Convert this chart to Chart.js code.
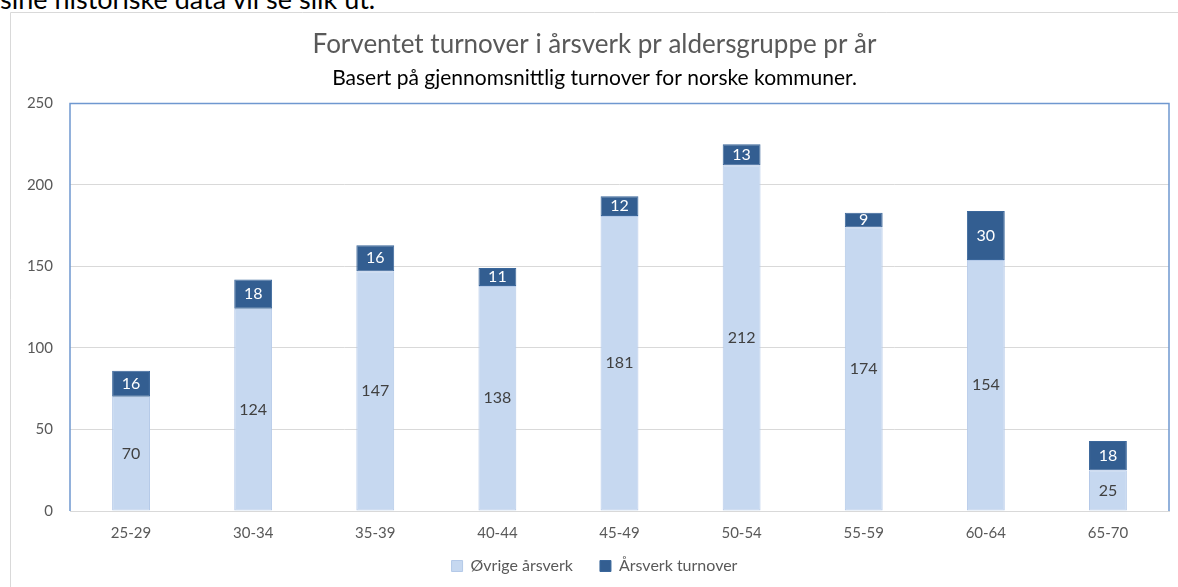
<!DOCTYPE html>
<html>
<head>
<meta charset="utf-8">
<script src="https://cdn.jsdelivr.net/npm/chart.js@4.4.1/dist/chart.umd.min.js"></script>
<style>
    html, body { margin: 0; padding: 0; background: #fff; overflow: hidden; }
    #intro {
        position: absolute; left: 0; top: -18px;
        font: 27px Lato, sans-serif; color: #000; white-space: nowrap;
    }
    #wrap { position: absolute; left: 0; top: 0; width: 1178px; height: 587px; }
</style>
</head>
<body>
<div id="intro">sine historiske data vil se slik ut.</div>
<div id="wrap"><canvas id="turnoverChart"></canvas></div>
<script>
const ageGroups = ['25-29', '30-34', '35-39', '40-44', '45-49', '50-54', '55-59', '60-64', '65-70'];
const otherFte = [70, 124, 147, 138, 181, 212, 174, 154, 25];
const turnoverFte = [16, 18, 16, 11, 12, 13, 9, 30, 18];
const yTicks = [0, 50, 100, 150, 200, 250];

const FONT = 'Lato, "Open Sans", sans-serif';
const GREY_TEXT = '#595959';

// frame around the whole chart object + blue border around plot area
const framePlugin = {
    id: 'frame',
    afterLayout(chart) {
        // x labels hang below the (thin) axis box, so widen its clip area
        const x = chart.scales.x;
        x.bottom = x.top + 40;
    },
    beforeDraw(chart) {
        const ctx = chart.ctx;
        ctx.save();
        ctx.strokeStyle = '#d9d9d9';
        ctx.lineWidth = 1;
        ctx.beginPath();
        ctx.moveTo(10.5, chart.height);
        ctx.lineTo(10.5, 12.5);
        ctx.lineTo(chart.width, 12.5);
        ctx.stroke();
        ctx.restore();
    },
    afterDraw(chart) {
        const { left, top, right, bottom } = chart.chartArea;
        const ctx = chart.ctx;
        ctx.save();
        ctx.strokeStyle = '#6f98d0';
        ctx.lineWidth = 1.5;
        ctx.beginPath();
        ctx.moveTo(left, bottom);
        ctx.lineTo(left, top);
        ctx.lineTo(right, top);
        ctx.lineTo(right, bottom);
        ctx.stroke();
        ctx.restore();
    }
};

// value labels centred in each segment
const segmentLabels = {
    id: 'segmentLabels',
    afterDatasetsDraw(chart) {
        const ctx = chart.ctx;
        ctx.save();
        ctx.font = '16px ' + FONT;
        ctx.textAlign = 'center';
        ctx.textBaseline = 'middle';
        chart.data.datasets.forEach((ds, i) => {
            const meta = chart.getDatasetMeta(i);
            ctx.fillStyle = i === 0 ? '#404040' : '#ffffff';
            meta.data.forEach((bar, j) => {
                const mid = (bar.y + bar.base) / 2;
                ctx.fillText(String(ds.data[j]), bar.x, mid);
            });
        });
        ctx.restore();
    }
};

function renderTurnoverChart() {
    const canvas = document.getElementById('turnoverChart');
    if (!canvas) {
        return;
    }

    new Chart(canvas.getContext('2d'), {
        type: 'bar',
        data: {
            labels: ageGroups,
            datasets: [{
                label: 'Øvrige årsverk',
                data: otherFte,
                backgroundColor: '#c6d8f0',
                borderColor: '#b4c9e8',
                borderWidth: 1,
                borderSkipped: false,
            }, {
                label: 'Årsverk turnover',
                data: turnoverFte,
                backgroundColor: '#335e91',
                borderColor: '#3b679b',
                borderWidth: 1,
                borderSkipped: false,
            }]
        },
        options: {
            responsive: true,
            maintainAspectRatio: false,
            animation: false,
            datasets: {
                bar: { categoryPercentage: 1, barPercentage: 0.31 }
            },
            layout: {
                padding: { left: 20, right: 9, top: 0, bottom: 3 }
            },
            scales: {
                x: {
                    stacked: true,
                    grid: { display: false },
                    border: { display: true, color: '#d9d9d9', width: 1 },
                    afterFit: (scale) => {
                        scale.height = 20;
                    },
                    ticks: {
                        color: GREY_TEXT,
                        padding: 5,
                        font: { family: FONT, size: 15 }
                    }
                },
                y: {
                    stacked: true,
                    min: 0,
                    max: 250,
                    afterBuildTicks: (scale) => {
                        scale.ticks = yTicks.map((v) => ({ value: v }));
                    },
                    afterFit: (scale) => {
                        scale.width = 50;
                    },
                    grid: { color: '#d9d9d9', drawTicks: false },
                    border: { display: false },
                    ticks: {
                        color: GREY_TEXT,
                        padding: 17,
                        font: { family: FONT, size: 15 }
                    }
                }
            },
            plugins: {
                title: {
                    display: true,
                    text: 'Forventet turnover i årsverk pr aldersgruppe pr år',
                    color: GREY_TEXT,
                    font: { family: FONT, size: 26, weight: 'normal' },
                    padding: { top: 29, bottom: 2 }
                },
                subtitle: {
                    display: true,
                    text: 'Basert på gjennomsnittlig turnover for norske kommuner.',
                    color: '#000000',
                    font: { family: FONT, size: 21, weight: 'normal' },
                    padding: { top: 3, bottom: 13 }
                },
                legend: {
                    position: 'bottom',
                    labels: {
                        boxWidth: 11,
                        boxHeight: 11,
                        color: GREY_TEXT,
                        padding: 27,
                        font: { family: FONT, size: 16 }
                    }
                },
                tooltip: { enabled: false }
            }
        },
        plugins: [framePlugin, segmentLabels]
    });
}

document.addEventListener('DOMContentLoaded', renderTurnoverChart);
</script>
</body>
</html>
